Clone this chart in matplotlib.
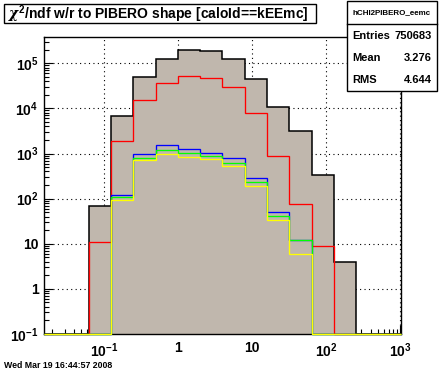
import numpy as np
import matplotlib
matplotlib.use('Agg')
import matplotlib.pyplot as plt
from matplotlib.patches import Rectangle
from matplotlib.lines import Line2D
from matplotlib.ticker import LogLocator, NullFormatter, FixedLocator

plt.rcParams['font.family'] = ['Liberation Sans', 'DejaVu Sans']
plt.rcParams['font.weight'] = 'bold'
plt.rcParams['mathtext.fontset'] = 'custom'
plt.rcParams['mathtext.rm'] = 'Liberation Sans:bold'
plt.rcParams['mathtext.bf'] = 'Liberation Sans:bold'
plt.rcParams['mathtext.it'] = 'DejaVu Serif:italic'

# chi2/ndf bins: powers of two from 2^-6 to 2^10
edges = 2.0 ** np.arange(-6, 11)
h_all = [0, 0, 69, 6900, 50600, 127000, 201000, 184000, 123000, 44200,
         10600, 3160, 340, 3.9, 0, 0]
h_red = [0, 0, 10.7, 1865, 15100, 36000, 51500, 46500, 29400, 7780,
         897, 77, 8.8, 0, 0, 0]
h_blue = [0, 0, 0, 118, 993, 1520, 1240, 1045, 783, 282,
          51, 12, 0, 0, 0, 0]
h_green = [0, 0, 0, 107, 810, 1178, 1010, 867, 607, 230,
           40.5, 12, 0, 0, 0, 0]
h_yellow = [0, 0, 0, 95, 706, 960, 837, 743, 520, 187,
            33, 5.8, 0, 0, 0, 0]

title = r'$\chi^{2}$/ndf w/r to PIBERO shape [caloId==kEEmc]'
stats_name = 'hCHI2PIBERO_eemc'
stats = [('Entries', '750683'), ('Mean', '3.276'), ('RMS', '4.644')]
datestamp = 'Wed Mar 19 16:44:57 2008'

W, H = 446, 372
ymin, ymax = 0.1, 3.83e5

fig = plt.figure(figsize=(W / 100, H / 100), dpi=100)
ax = fig.add_axes([44 / W, 1 - 334 / H, (401 - 44) / W, (334 - 37) / H])
ax.set_xscale('log')
ax.set_yscale('log')
ax.set_xlim(edges[0], edges[-1])
ax.set_ylim(ymin, ymax)


def floor(v):
    v = np.asarray(v, dtype=float)
    return np.where(v > 0, v, ymin)


ax.stairs(floor(h_all), edges, baseline=ymin, fill=True, color='#c0b7ad', zorder=2)
ax.stairs(floor(h_all), edges, baseline=ymin, color='black', lw=1.1, zorder=3)
for vals, col in [(h_red, '#ff0000'), (h_blue, '#0000ff'),
                  (h_green, '#00ff00'), (h_yellow, '#ffff00')]:
    ax.stairs(floor(vals), edges, baseline=None, color=col, lw=0.95,
              zorder=4, clip_on=False)

ax.grid(True, which='major', color='black', ls=(0, (1, 3)), lw=0.8, zorder=1)
ax.set_axisbelow(True)

ax.xaxis.set_major_locator(FixedLocator([0.1, 1, 10, 100, 1000]))
ax.set_xticklabels([r'$10^{-1}$', '1', '10', r'$10^{2}$', r'$10^{3}$'])
ax.xaxis.set_minor_locator(LogLocator(base=10, subs=np.arange(2, 10)))
ax.xaxis.set_minor_formatter(NullFormatter())
ax.yaxis.set_major_locator(FixedLocator([0.1, 1, 10, 100, 1e3, 1e4, 1e5]))
ax.set_yticklabels([r'$10^{-1}$', '1', '10', r'$10^{2}$', r'$10^{3}$',
                    r'$10^{4}$', r'$10^{5}$'])
ax.yaxis.set_minor_locator(LogLocator(base=10, subs=np.arange(2, 10)))
ax.yaxis.set_minor_formatter(NullFormatter())
ax.tick_params(which='both', direction='in', top=False, right=False, labelsize=10)
ax.tick_params(which='major', length=6.5, width=0.8)
ax.tick_params(which='minor', length=3.6, width=0.8)
ax.tick_params(axis='x', pad=5)
ax.tick_params(axis='y', pad=4)
for s in ax.spines.values():
    s.set_linewidth(1.0)


def fx(x):
    return x / W


def fy(y):
    return 1 - y / H


# title box
fig.add_artist(Rectangle((fx(4), fy(23)), fx(316) - fx(4), fy(4) - fy(23),
                         transform=fig.transFigure, facecolor='white',
                         edgecolor='black', lw=1.0, zorder=5))
fig.text(fx(8), fy(14), title, fontsize=10, fontweight='bold',
         va='center', ha='left', zorder=6)

# stats box
fig.add_artist(Rectangle((fx(347), fy(91)), fx(437) - fx(347), fy(1) - fy(91),
                         transform=fig.transFigure, facecolor='white',
                         edgecolor='black', lw=1.0, zorder=5))
fig.add_artist(Line2D([fx(347), fx(437)], [fy(24), fy(24)],
                      transform=fig.transFigure, color='black', lw=1.0, zorder=6))
fig.text(fx(392), fy(13), stats_name, fontsize=5.8, ha='center', va='center', zorder=6)
for i, (k, v) in enumerate(stats):
    yy = fy(36 + i * 22)
    fig.text(fx(352), yy, k, fontsize=8, ha='left', va='center', zorder=6)
    fig.text(fx(432), yy, v, fontsize=8, ha='right', va='center', zorder=6)

fig.text(fx(4), fy(365), datestamp, fontsize=6.3, ha='left', va='center')

fig.savefig('out.png', dpi=100, facecolor='white')
